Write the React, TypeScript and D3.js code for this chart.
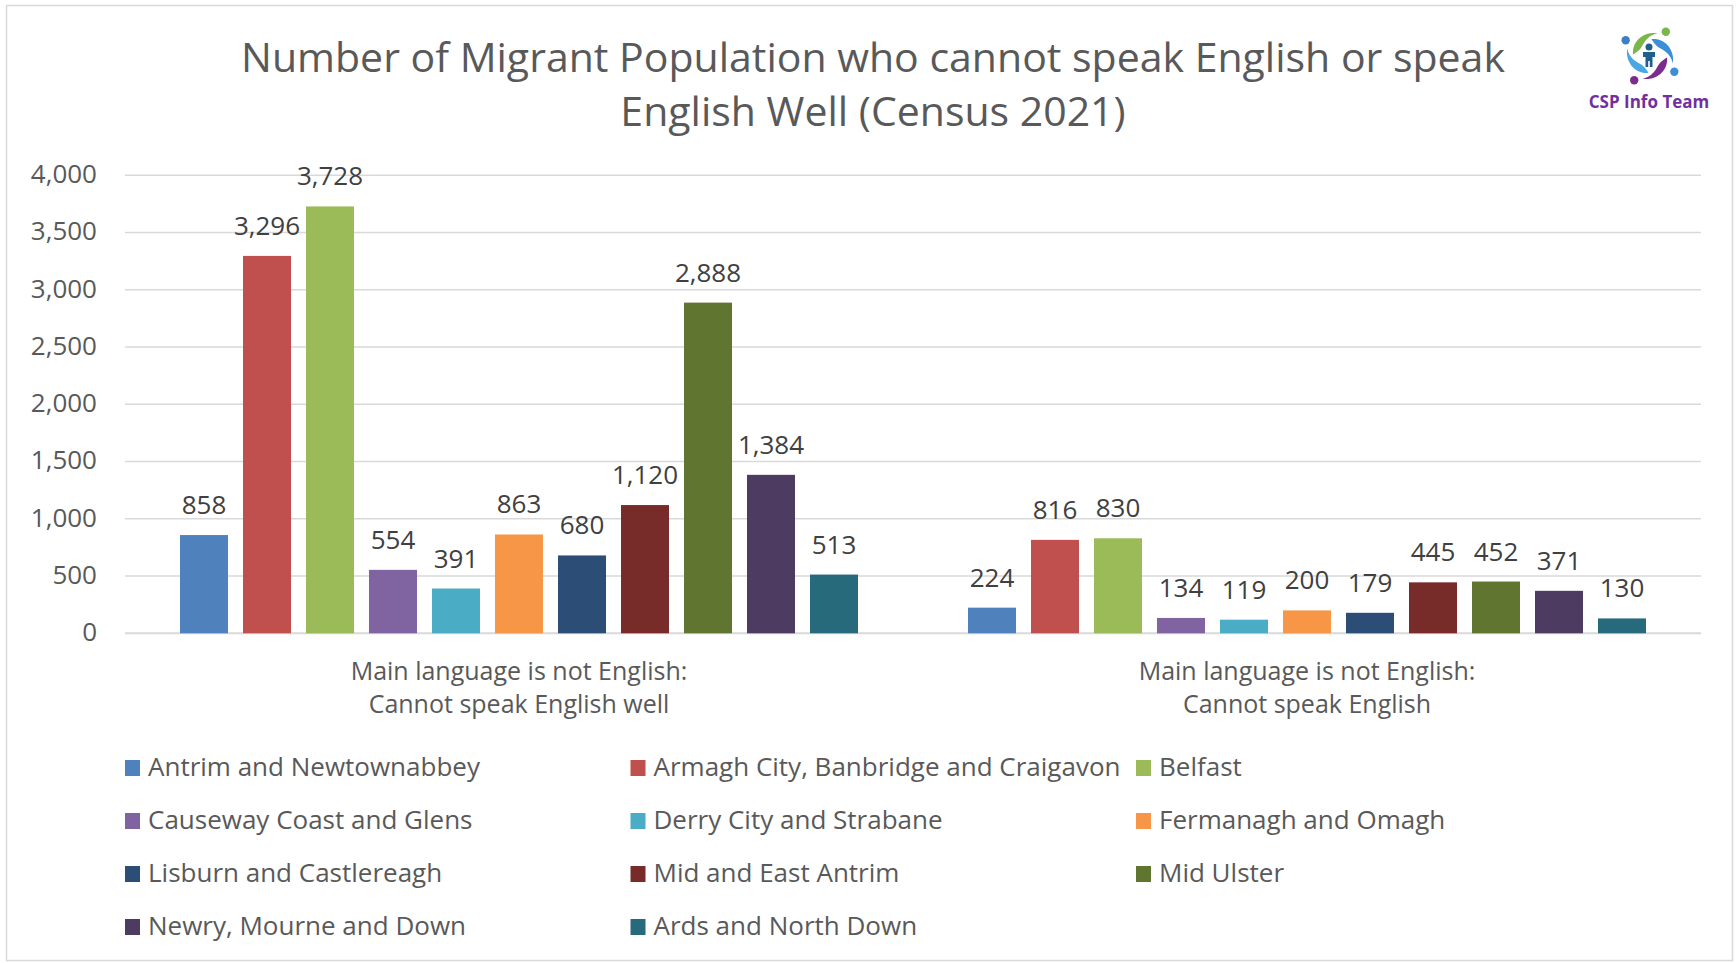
import * as d3 from 'd3';

const W = 1736;
const H = 963;
const FONT = "'Open Sans', 'DejaVu Sans', sans-serif";

const councils = [
  'Antrim and Newtownabbey',
  'Armagh City, Banbridge and Craigavon',
  'Belfast',
  'Causeway Coast and Glens',
  'Derry City and Strabane',
  'Fermanagh and Omagh',
  'Lisburn and Castlereagh',
  'Mid and East Antrim',
  'Mid Ulster',
  'Newry, Mourne and Down',
  'Ards and North Down',
];
const councilColors = [
  '#4F81BD', '#C0504D', '#9BBB59', '#8064A2', '#4BACC6', '#F79646',
  '#2C4D75', '#772C2A', '#5F7530', '#4D3B62', '#276A7C',
];
const categories = ['well', 'cannot'];
const categoryLabels = [
  ['Main language is not English:', 'Cannot speak English well'],
  ['Main language is not English:', 'Cannot speak English'],
];
const wellValues = [858, 3296, 3728, 554, 391, 863, 680, 1120, 2888, 1384, 513];
const cannotValues = [224, 816, 830, 134, 119, 200, 179, 445, 452, 371, 130];
const yTicks = [0, 500, 1000, 1500, 2000, 2500, 3000, 3500, 4000];
const titleLines = [
  'Number of Migrant Population who cannot speak English or speak',
  'English Well (Census 2021)',
];

const PLOT = { left: 125, right: 1701, top: 175.3, bottom: 633.3 };
const LEGEND = { x: 125, y: 776, colW: 505.5, rowH: 53, cols: 3 };

const fmt = d3.format(',');

// swirl icon: four tapered swooshes + dots + a small figure
function Logo() {
  const cx = 1650;
  const cy = 56;
  const swooshColors = ['#7AB648', '#3C8FD6', '#7B2D8E', '#4BA7E0'];
  const dotColors = ['#7AB648', '#3C8FD6', '#7B2D8E', '#3C7FC8'];
  const swoosh = (a0: number, a1: number) => {
    const n = 24;
    const outer: [number, number][] = [];
    const inner: [number, number][] = [];
    for (let k = 0; k <= n; k++) {
      const t = k / n;
      const a = ((a0 + (a1 - a0) * t) * Math.PI) / 180;
      const ro = 17 + 7 * t;
      const ri = ro - 7.5 * Math.sin(Math.PI * Math.pow(t, 0.8));
      outer.push([Math.cos(a) * ro, Math.sin(a) * ro]);
      inner.push([Math.cos(a) * ri, Math.sin(a) * ri]);
    }
    return d3.line()([...outer, ...inner.reverse()]) + 'Z';
  };
  return (
    <g transform={`translate(${cx},${cy})`}>
      {swooshColors.map((c, i) => (
        <path key={c + i} d={swoosh(-175 + i * 90, -72 + i * 90)} fill={c} />
      ))}
      {dotColors.map((c, i) => {
        const a = ((-57 + i * 90) * Math.PI) / 180;
        return <circle key={'d' + i} cx={Math.cos(a) * 29} cy={Math.sin(a) * 29} r={4.2} fill={c} />;
      })}
      <circle cx={-1} cy={-9} r={3.5} fill="#1F5F8B" />
      <path d="M-7,-4 L5,-4 L5,1 L2.5,1 L2.5,11 L-0.2,11 L-0.2,5 L-1.8,5 L-1.8,11 L-4.5,11 L-4.5,1 L-7,1 Z" fill="#1F5F8B" />
      <text x={-1} y={52} textAnchor="middle" fontFamily={FONT} fontWeight="bold" fontSize={17} fill="#7030A0">
        CSP Info Team
      </text>
    </g>
  );
}

export default function App() {
  const y = d3.scaleLinear().domain([0, 4000]).range([PLOT.bottom, PLOT.top]);
  const x0 = d3.scaleBand<string>().domain(categories).range([PLOT.left, PLOT.right]);
  const x1 = d3
    .scaleBand<string>()
    .domain(councils)
    .range([0, x0.bandwidth()])
    .paddingInner(0.238)
    .paddingOuter(0.873);

  const seriesByCategory = [wellValues, cannotValues];

  return (
    <svg
      width={W}
      height={H}
      style={{ position: 'absolute', left: 0, top: 0, display: 'block', background: '#fff' }}
    >
      <rect x={0} y={0} width={W} height={H} fill="#fff" />
      <rect x={6.5} y={5.5} width={1726} height={955} fill="none" stroke="#d9d9d9" strokeWidth={1.5} />

      {titleLines.map((t, i) => (
        <text key={t} x={873} y={72 + i * 54} textAnchor="middle" fontFamily={FONT} fontSize={41} fill="#595959">
          {t}
        </text>
      ))}

      <Logo />

      {yTicks.map((t) => (
        <g key={t}>
          <line x1={PLOT.left} x2={PLOT.right} y1={y(t)} y2={y(t)} stroke="#d9d9d9" strokeWidth={t === 0 ? 2 : 1.5} />
          <text x={97} y={y(t)} dy="0.3em" textAnchor="end" fontFamily={FONT} fontSize={26} fill="#595959">
            {fmt(t)}
          </text>
        </g>
      ))}

      {categories.map((cat, ci) => (
        <g key={cat} transform={`translate(${x0(cat)},0)`}>
          {councils.map((name, i) => {
            const v = seriesByCategory[ci][i];
            const bx = x1(name) ?? 0;
            return (
              <g key={name}>
                <rect x={bx} y={y(v)} width={x1.bandwidth()} height={y(0) - y(v)} fill={councilColors[i]} />
                <text
                  x={bx + x1.bandwidth() / 2}
                  y={y(v) - 21}
                  textAnchor="middle"
                  fontFamily={FONT}
                  fontSize={26}
                  fill="#404040"
                >
                  {fmt(v)}
                </text>
              </g>
            );
          })}
          {categoryLabels[ci].map((line, li) => (
            <text
              key={li}
              x={x0.bandwidth() / 2}
              y={680 + li * 33}
              textAnchor="middle"
              fontFamily={FONT}
              fontSize={25}
              fill="#595959"
            >
              {line}
            </text>
          ))}
        </g>
      ))}

      {councils.map((name, i) => {
        const col = i % LEGEND.cols;
        const row = Math.floor(i / LEGEND.cols);
        const lx = LEGEND.x + col * LEGEND.colW;
        const ly = LEGEND.y + row * LEGEND.rowH;
        return (
          <g key={name}>
            <rect x={lx} y={ly - 16} width={15} height={16} fill={councilColors[i]} />
            <text x={lx + 23} y={ly} fontFamily={FONT} fontSize={26} fill="#595959">
              {name}
            </text>
          </g>
        );
      })}
    </svg>
  );
}
